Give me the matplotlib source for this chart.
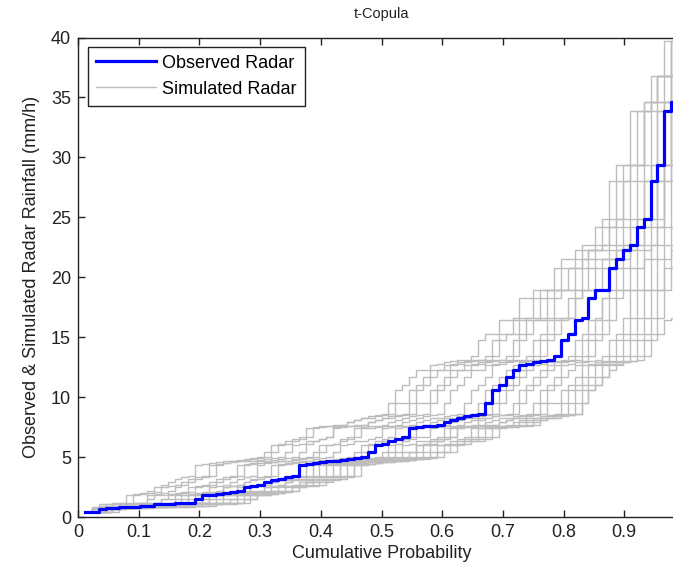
import numpy as np
import matplotlib
matplotlib.use("Agg")
import matplotlib.pyplot as plt

plt.rcParams['font.family'] = ['Liberation Sans', 'DejaVu Sans']

# observed radar rainfall, sorted (mm/h), plotted at i/88
observed = [0.40, 0.40, 0.70, 0.75, 0.75, 0.80, 0.80, 0.85, 0.90, 0.95,
            1.05, 1.10, 1.10, 1.15, 1.15, 1.20, 1.50, 1.80, 1.85, 1.90,
            2.00, 2.10, 2.20, 2.50, 2.60, 2.70, 2.90, 3.10, 3.20, 3.30,
            3.40, 4.30, 4.40, 4.50, 4.60, 4.65, 4.70, 4.75, 4.80, 4.90,
            5.00, 5.40, 6.00, 6.10, 6.35, 6.50, 6.65, 7.40, 7.50, 7.55,
            7.60, 7.70, 7.95, 8.10, 8.30, 8.40, 8.50, 8.60, 9.50, 10.60,
            11.00, 11.70, 12.30, 12.65, 12.80, 12.90, 13.00, 13.10, 13.40, 14.80,
            15.30, 16.40, 16.60, 18.30, 18.90, 18.90, 20.80, 21.50, 22.30, 22.70,
            24.20, 24.90, 28.00, 29.40, 33.90, 34.60, 36.80, 39.70]

# simulated series: how many times each observed level is drawn (one digit per level)
sim_counts = [
    "0100000100 1010110101 1011011011 1111111111 1111211111 1111111111 1121111211 2212121212 11122124",
    "1000100010 1010110101 1101111011 1111011111 1111011111 1211211121 1121111211 2121212121 11121223",
    "1010101010 1010110101 1011011011 1101112111 1111211111 1111111111 1121111211 2121212121 11121123",
    "1001001010 1111011111 1101111011 1111011111 1101111011 1211211121 1121111211 1211211121 11121123",
    "1011011011 1011011011 1101111011 1111211111 1111011111 1111111111 1121111211 1211211121 11111222",
    "1010110101 1101112111 1101111011 1101111011 1121111211 1111111111 1121111211 1121111211 11111212",
    "1101111011 1111011111 1111111111 1101111011 1111211111 1111211111 1101112111 1121111211 11111112",
    "1111011111 1111011111 1101111011 1121111211 1111111111 1111211111 1111011111 1111211111 11111112",
    "1101112111 1111011111 1111211111 1111011111 1111211111 1111211111 1111011111 1111111111 11111111",
    "1111211111 1111111111 1101112111 1111211111 1111011111 1111211111 1111111111 1111011111 11110111",
    "1121111211 1101111011 1121111211 1111211111 1101112111 1111211111 1111011111 1101111011 11110111",
    "1111211111 1121111211 1111111111 1111211111 1111211111 1101112111 1111011111 1101111011 11011011",
    "1211211121 1111011111 1121111211 1121111211 1111111111 1111211111 1101111011 1101111011 10110110",
    "1121111211 1121111211 1111211111 1101112111 1211211121 1111111111 1111011111 1010110101 10110110",
    "2112112112 1111211111 1111211111 1111211111 1111111111 1211211121 1101111011 1010110101 10101010",
    "2121212121 1101112111 1121111211 1111211111 1121111211 1111211111 1101111011 1010110101 10100100",
    "2212121212 1111211111 1111011111 1211211121 1121111211 1111211111 1101111011 1010110101 10010000",
    "2221212122 1111011111 1121111211 1121111211 1121111211 1111211111 1101111011 1010101010 10010000",
    "2222122212 1101112111 1111211111 1111211111 1211211121 1111211111 1101111011 1010101010 10000000",
    "3212222212 1111011111 1111111111 1211211121 1211211121 1101112111 1111011111 1110110000 00000000",
]

levels = np.array(observed)
n = len(levels)
x_obs = np.arange(1, n + 1) / 88.0

W, H = 673, 569
fig = plt.figure(figsize=(W / 100, H / 100), dpi=100)
# axes runs past the right edge of the picture, as in the cropped original
ax = fig.add_axes([78 / W, 52 / H, 607 / W, 479.5 / H])

for k, s in enumerate(sim_counts):
    counts = np.array([int(c) for c in s.replace(" ", "")])
    vals = np.repeat(levels, counts)
    xs = np.arange(1, len(vals) + 1) / 88.0
    ax.step(xs, vals, where='post', color='#bdbdbd', lw=1.0,
            label='Simulated Radar' if k == 0 else None, zorder=2)

ax.step(x_obs, levels, where='post', color='#0000ff', lw=2.3,
        label='Observed Radar', zorder=3)

ax.set_xlim(0, 1)
ax.set_ylim(0, 40)
xt = np.round(np.arange(0, 0.95, 0.1), 1)
ax.set_xticks(xt)
ax.set_xticklabels(['0'] + ['%.1f' % t for t in xt[1:]])
ax.set_yticks(range(0, 41, 5))
ax.tick_params(direction='in', length=5, width=1, top=True, right=True,
               labelsize=13, colors='#222222', pad=5)
for sp in ax.spines.values():
    sp.set_linewidth(1.0)
    sp.set_color('#222222')

ax.set_xlabel('Cumulative Probability', fontsize=13, color='#222222', labelpad=3)
ax.set_ylabel('Observed & Simulated Radar Rainfall (mm/h)', fontsize=13,
              color='#222222', labelpad=8)
ax.set_title('t-Copula', fontsize=10.5, color='#222222', pad=14)

handles, labels = ax.get_legend_handles_labels()
leg = ax.legend(handles[::-1], labels[::-1], loc='upper left',
                bbox_to_anchor=(0.0165, 0.981), borderaxespad=0,
                fontsize=13, handlelength=3.3, handletextpad=0.35,
                borderpad=0.45, labelspacing=0.5, fancybox=False,
                framealpha=1, edgecolor='#222222')
leg.get_frame().set_linewidth(1.0)

fig.savefig('out.png', dpi=100)
